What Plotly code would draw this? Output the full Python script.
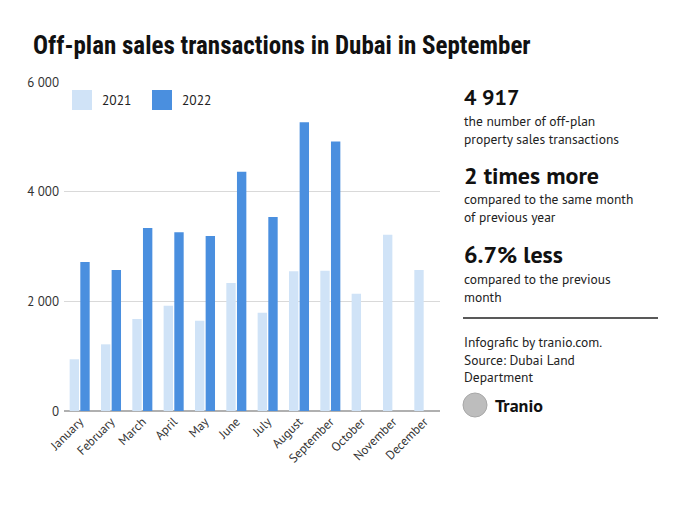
import plotly.graph_objects as go

months = ["January", "February", "March", "April", "May", "June", "July",
          "August", "September", "October", "November", "December"]
sales_2021 = [943, 1216, 1678, 1921, 1647, 2334, 1793, 2547, 2559, 2140, 3216, 2572]
sales_2022 = [2718, 2572, 3337, 3259, 3192, 4365, 3538, 5265, 4917, None, None, None]
y_ticks = [0, 2000, 4000, 6000]

OFF = 8  # page body margin
W, H = 693 - OFF, 520 - OFF
L, R, T, B = 64 - OFF, 440 - OFF, 82 - OFF, 411 - OFF  # plot area in figure pixels

def px(x):
    return (x - OFF - L) / (R - L)

def py(y):
    return (B - (y - OFF)) / (B - T)

BODY = "PT Sans, Lato, Open Sans, sans-serif"
COND = "Liberation Sans Narrow, Roboto Condensed, Roboto, sans-serif"
LIGHT = "#d0e3f7"
DARK = "#4a8fdf"

fig = go.Figure()
fig.add_bar(x=months, y=sales_2021, name="2021", marker_color=LIGHT, marker_line_width=0)
fig.add_bar(x=months, y=sales_2022, name="2022", marker_color=DARK, marker_line_width=0)

fig.update_layout(
    width=W, height=H,
    margin=dict(l=L, r=W - R, t=T, b=H - B),
    paper_bgcolor="white", plot_bgcolor="white",
    barmode="group", bargap=0.32, bargroupgap=0.12,
    showlegend=False,
    separators=". ",
    font=dict(family=BODY, color="#222222"),
)
fig.update_yaxes(range=[0, 6000], tickvals=y_ticks, tickformat=",d",
                 showgrid=True, gridcolor="#d9d9d9", gridwidth=1,
                 zeroline=True, zerolinecolor="#b0b0b0", zerolinewidth=1.5,
                 tickfont=dict(size=13, color="#333333"), ticklabelstandoff=4,
                 showline=False)
fig.update_xaxes(tickangle=-45, tickfont=dict(size=12.5, color="#333333"),
                 showline=False, ticks="")

ann = []
def text(x, y, s, size=13.5, bold=False, family=BODY, color="#222222"):
    ann.append(dict(x=px(x), y=py(y), xref="paper", yref="paper", text=(f"<b>{s}</b>" if bold else s),
                    showarrow=False, xanchor="left", yanchor="middle", align="left",
                    font=dict(size=size, family=family, color=color)))

# Title
text(31, 45, "Off-plan sales transactions in Dubai in September", size=25, bold=True, family=COND, color="#111111")

# Legend
shapes = []
def rect(x0, y0, x1, y1, color):
    shapes.append(dict(type="rect", xref="paper", yref="paper", x0=px(x0), x1=px(x1),
                       y0=py(y1), y1=py(y0), fillcolor=color, line_width=0))
rect(72, 90, 92, 110, LIGHT)
text(100, 100, "2021", size=13.5)
rect(152, 90, 172, 110, DARK)
text(180, 100, "2022", size=13.5)

# Right panel
text(462, 97, "4 917", size=22, bold=True, color="#111111")
text(462, 130, "the number of off-plan<br>property sales transactions")
text(462, 175, "2 times more", size=24, bold=True, color="#111111")
text(462, 208, "compared to the same month<br>of previous year")
text(462, 254, "6.7% less", size=24, bold=True, color="#111111")
text(462, 288, "compared to the previous<br>month")
shapes.append(dict(type="line", xref="paper", yref="paper", x0=px(463), x1=px(658),
                   y0=py(318), y1=py(318), line=dict(color="#222222", width=1.5)))
text(462, 359, "Infografic by tranio.com.<br>Source: Dubai Land<br>Department")
shapes.append(dict(type="circle", xref="paper", yref="paper", x0=px(463), x1=px(487),
                   y0=py(417), y1=py(393), fillcolor="#bdbdbd", line=dict(color="#a8a8a8", width=1)))
text(493, 405, "Tranio", size=18, bold=True, color="#111111")

fig.update_layout(annotations=ann, shapes=shapes)
fig.write_html("out.html")
